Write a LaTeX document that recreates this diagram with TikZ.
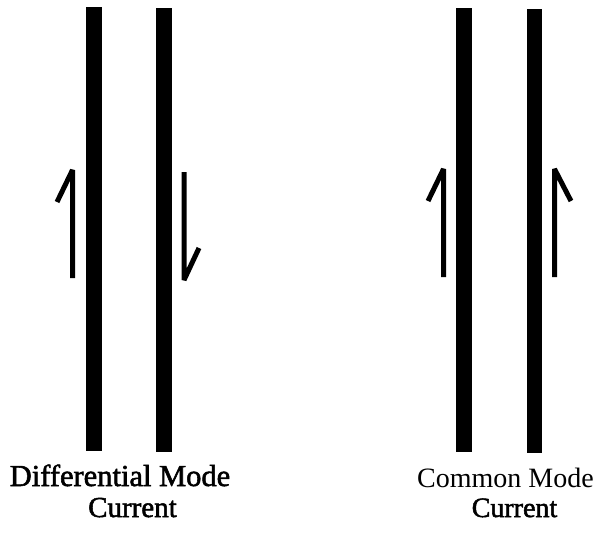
\documentclass[tikz,border=0pt]{standalone}
\usepackage{fontspec}
\setmainfont{Liberation Serif}
\newfontfamily\heavyserif[FakeBold=1.8]{Liberation Serif}
\begin{document}
\begin{tikzpicture}[x=1pt,y=-1pt,
  conductor/.style={fill=black},
  flow/.style={line width=5pt,line cap=butt,line join=bevel},
  caption/.style={inner sep=0pt,anchor=base,font=\fontsize{29}{32}\selectfont},
  heavycaption/.style={caption,font=\fontsize{29}{32}\heavyserif}]
\useasboundingbox (0,0) rectangle (610,536);
% differential pair of conductors
\fill[conductor] (86,7) rectangle (102,451);
\fill[conductor] (156,8) rectangle (172,452);
% common mode pair of conductors
\fill[conductor] (456,8) rectangle (472,452);
\fill[conductor] (527,9) rectangle (542,453);
% current direction marks
\draw[flow] (72.5,278) -- (72.5,170) -- (57,202);
\draw[flow] (184,172) -- (184,280) -- (199,248);
\draw[flow] (443.5,277) -- (443.5,169) -- (428,201);
\draw[flow] (554.5,277) -- (554.5,169) -- (571,201);
% captions
\node[heavycaption,font=\fontsize{30.5}{32}\heavyserif] (dm1) at (120,486) {Differential Mode};
\node[heavycaption] (dm2) at (132.5,517) {Current};
\node[caption,font=\fontsize{28}{32}\selectfont] (cm1) at (505.5,487) {Common Mode};
\node[heavycaption,font=\fontsize{28}{32}\heavyserif] (cm2) at (514.5,517) {Current};
\end{tikzpicture}
\end{document}
